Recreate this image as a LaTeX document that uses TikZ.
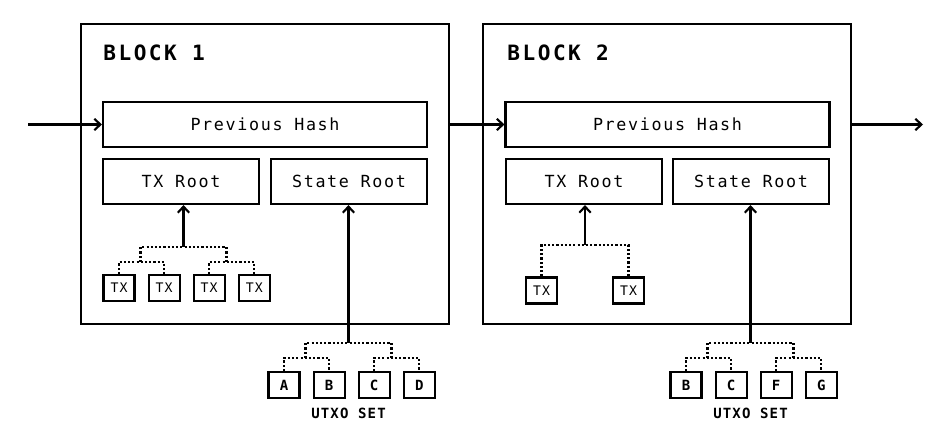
\documentclass[tikz,border=0pt]{standalone}
\usepackage{fontspec}
\setmonofont{DejaVu Sans Mono}
\newfontfamily\fieldfont[LetterSpace=10]{DejaVu Sans Mono}
\newfontfamily\smallfont[LetterSpace=8]{DejaVu Sans Mono}
\newfontfamily\headfont[LetterSpace=12]{DejaVu Sans Mono}
\usetikzlibrary{positioning,arrows.meta}
\tikzset{
    block/.style={draw,line width=1.2pt,minimum width=7.36cm,minimum height=6cm,inner sep=0pt},
    field/.style={draw,line width=1.2pt,minimum height=0.9cm,inner sep=0pt,font=\fieldfont\fontsize{9.5}{11}\selectfont},
    wide field/.style={field,minimum width=6.48cm},
    half field/.style={field,minimum width=3.12cm},
    leaf/.style={draw,line width=1.2pt,minimum width=0.62cm,minimum height=0.52cm,inner sep=0pt,font=\smallfont\fontsize{7.5}{9}\selectfont},
    utxo/.style={leaf,font=\smallfont\bfseries\fontsize{8}{9}\selectfont},
    branch/.style={line width=1.2pt,dash pattern=on 1.2pt off 1.2pt},
    link/.style={->,line width=1.2pt},
    title/.style={anchor=base west,inner sep=0pt,font=\headfont\bfseries\fontsize{12}{14}\selectfont},
    caption/.style={inner sep=0pt,font=\smallfont\bfseries\fontsize{8}{9}\selectfont}
}

\begin{document}
\begin{tikzpicture}[x=0.02cm,y=-0.02cm,>={Straight Barb[length=3.5pt,width=6.5pt]}]
    \useasboundingbox (0,0) rectangle (926,428);

    % blocks
    \node[block] (block1) at (265,174) {};
    \node[block] (block2) at (667,174) {};
    \node[title] (title1) at (103,61) {BLOCK 1};
    \node[title] (title2) at (507,61) {BLOCK 2};

    % header fields
    \node[wide field] (hash1) at (265,124.5) {Previous Hash};
    \node[half field] (txroot1) at (181,181.5) {TX Root};
    \node[half field] (stateroot1) at (349,181.5) {State Root};
    \node[wide field] (hash2) at (667.5,124.5) {Previous Hash};
    \node[half field] (txroot2) at (584,181.5) {TX Root};
    \node[half field] (stateroot2) at (751,181.5) {State Root};

    % chain
    \coordinate (in) at (28,124.5);
    \coordinate (out) at (923,124.5);
    \draw[link] (in) -- (hash1.west);
    \draw[link] (block1.east |- hash2.west) -- (hash2.west);
    \draw[link] (block2.east |- hash2.east) -- (out);

    % block 1 transactions
    \node[leaf] (tx11) at (119,288) {TX};
    \node[leaf,right=0.24cm of tx11] (tx12) {TX};
    \node[leaf,right=0.24cm of tx12] (tx13) {TX};
    \node[leaf,right=0.24cm of tx13] (tx14) {TX};
    \coordinate (tm11) at (140.5,262);
    \coordinate (tm12) at (226.5,262);
    \coordinate (tr1) at (183.5,247);
    \draw[branch] (tx11.north) |- (tm11) -| (tx12.north);
    \draw[branch] (tx13.north) |- (tm12) -| (tx14.north);
    \draw[branch] (tm11) |- (tr1) -| (tm12);
    \draw[link] (tr1) -- (tr1 |- txroot1.south);

    % block 1 state
    \node[utxo] (ua) at (284,385) {A};
    \node[utxo,right=0.24cm of ua] (ub) {B};
    \node[utxo,right=0.24cm of ub] (uc) {C};
    \node[utxo,right=0.24cm of uc] (ud) {D};
    \node[caption] (set1) at (348.5,413.5) {UTXO SET};
    \coordinate (um11) at (305.5,358);
    \coordinate (um12) at (391.5,358);
    \coordinate (ur1) at (348.5,343);
    \draw[branch] (ua.north) |- (um11) -| (ub.north);
    \draw[branch] (uc.north) |- (um12) -| (ud.north);
    \draw[branch] (um11) |- (ur1) -| (um12);
    \draw[link] (ur1) -- (ur1 |- stateroot1.south);

    % block 2 transactions
    \node[leaf] (tx21) at (541.5,290.5) {TX};
    \node[leaf] (tx22) at (628.5,290.5) {TX};
    \coordinate (tr2) at (585,245);
    \draw[branch] (tx21.north) |- (tr2) -| (tx22.north);
    \draw[link] (tr2) -- (tr2 |- txroot2.south);

    % block 2 state
    \node[utxo] (vb) at (686,385) {B};
    \node[utxo,right=0.24cm of vb] (vc) {C};
    \node[utxo,right=0.24cm of vc] (vf) {F};
    \node[utxo,right=0.24cm of vf] (vg) {G};
    \node[caption] (set2) at (750.5,413.5) {UTXO SET};
    \coordinate (vm21) at (707.5,358);
    \coordinate (vm22) at (793.5,358);
    \coordinate (vr2) at (750.5,343);
    \draw[branch] (vb.north) |- (vm21) -| (vc.north);
    \draw[branch] (vf.north) |- (vm22) -| (vg.north);
    \draw[branch] (vm21) |- (vr2) -| (vm22);
    \draw[link] (vr2) -- (vr2 |- stateroot2.south);
\end{tikzpicture}
\end{document}
